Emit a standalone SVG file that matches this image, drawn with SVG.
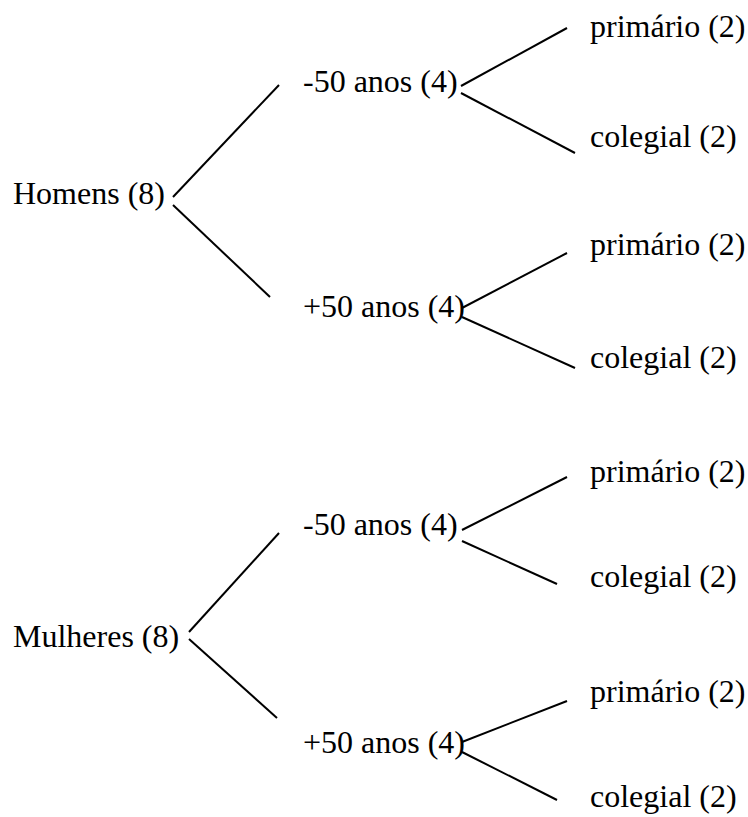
<svg xmlns="http://www.w3.org/2000/svg" width="748" height="817" viewBox="0 0 748 817">
  <style>
    text { font-family: "Liberation Serif", "Times New Roman", serif; font-size: 32px; fill: #000; }
    .edge { stroke: #000; stroke-width: 2; fill: none; }
  </style>
  <rect width="748" height="817" fill="#fff"/>

  <g id="connectors">
    <!-- Homens branch -->
    <line class="edge" x1="173" y1="197" x2="279" y2="85"/>
    <line class="edge" x1="173" y1="205" x2="270" y2="297"/>
    <line class="edge" x1="461" y1="86" x2="567" y2="28"/>
    <line class="edge" x1="461" y1="93" x2="575" y2="153"/>
    <line class="edge" x1="462" y1="308" x2="567" y2="253"/>
    <line class="edge" x1="462" y1="317" x2="575" y2="368"/>
    <!-- Mulheres branch -->
    <line class="edge" x1="189" y1="632" x2="279" y2="533"/>
    <line class="edge" x1="189" y1="639" x2="277" y2="718"/>
    <line class="edge" x1="462" y1="530" x2="567" y2="477"/>
    <line class="edge" x1="462" y1="541" x2="557" y2="584"/>
    <line class="edge" x1="462" y1="742" x2="567" y2="701"/>
    <line class="edge" x1="462" y1="752" x2="557" y2="800"/>
  </g>

  <g id="homens"><text x="13" y="204">Homens (8)</text></g>
  <g id="homens-menos50"><text x="303" y="92">-50 anos (4)</text></g>
  <g id="homens-menos50-primario"><text x="590" y="37">primário (2)</text></g>
  <g id="homens-menos50-colegial"><text x="590" y="147">colegial (2)</text></g>
  <g id="homens-mais50"><text x="303" y="317">+50 anos (4)</text></g>
  <g id="homens-mais50-primario"><text x="590" y="255">primário (2)</text></g>
  <g id="homens-mais50-colegial"><text x="590" y="368">colegial (2)</text></g>

  <g id="mulheres"><text x="13" y="647">Mulheres (8)</text></g>
  <g id="mulheres-menos50"><text x="303" y="535">-50 anos (4)</text></g>
  <g id="mulheres-menos50-primario"><text x="590" y="482">primário (2)</text></g>
  <g id="mulheres-menos50-colegial"><text x="590" y="587">colegial (2)</text></g>
  <g id="mulheres-mais50"><text x="303" y="753">+50 anos (4)</text></g>
  <g id="mulheres-mais50-primario"><text x="590" y="702">primário (2)</text></g>
  <g id="mulheres-mais50-colegial"><text x="590" y="807">colegial (2)</text></g>
</svg>
